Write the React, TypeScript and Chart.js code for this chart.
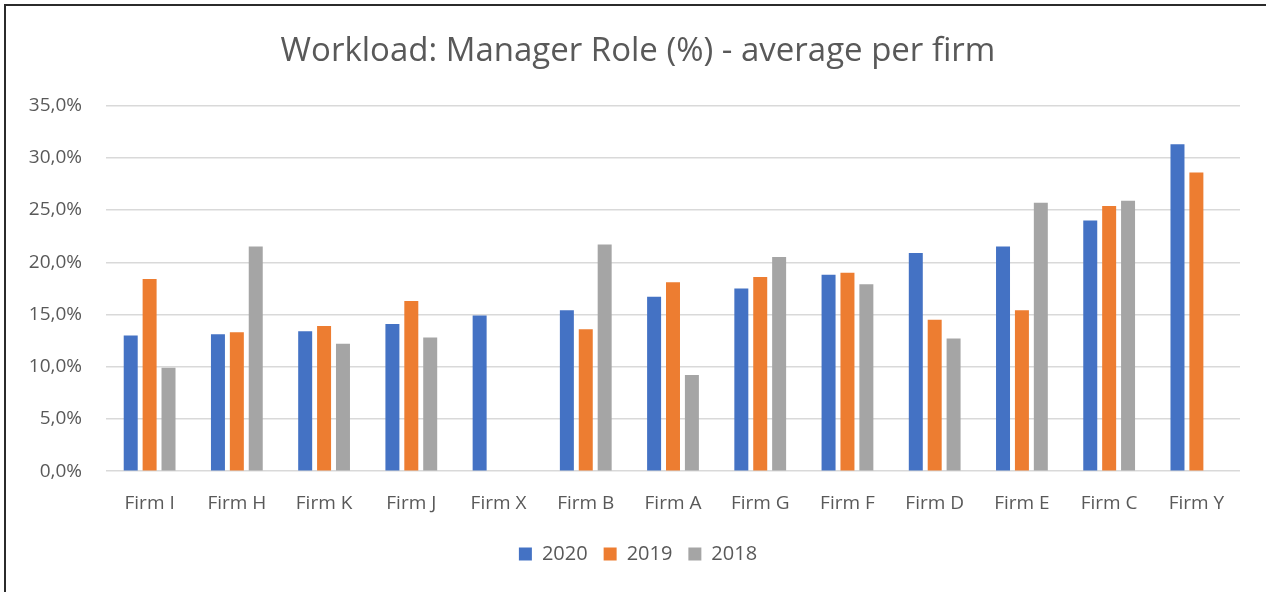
import React, { useEffect, useRef } from "react";
import { Chart, registerables } from "chart.js";

Chart.register(...registerables);

const categories = ["Firm I", "Firm H", "Firm K", "Firm J", "Firm X", "Firm B", "Firm A", "Firm G", "Firm F", "Firm D", "Firm E", "Firm C", "Firm Y"];
const series2020 = [13.0, 13.1, 13.4, 14.1, 14.9, 15.4, 16.7, 17.5, 18.8, 20.9, 21.5, 24.0, 31.3];
const series2019 = [18.4, 13.3, 13.9, 16.3, null, 13.6, 18.1, 18.6, 19.0, 14.5, 15.4, 25.4, 28.6];
const series2018 = [9.9, 21.5, 12.2, 12.8, null, 21.7, 9.2, 20.5, 17.9, 12.7, 25.7, 25.9, null];
const seriesNames = ["2020", "2019", "2018"];
const seriesColors = ["#4472C4", "#ED7D31", "#A5A5A5"];
const titleText = "Workload: Manager Role (%) - average per firm";
const yMin = 0;
const yMax = 35;
const yStep = 5;

const FONT = "'Open Sans', 'Noto Sans', sans-serif";
const TEXT = "#595959";

export default function App() {
  const ref = useRef<HTMLCanvasElement | null>(null);

  useEffect(() => {
    document.body.style.margin = "0";
    const ctx = ref.current;
    if (!ctx) return;
    const data = [series2020, series2019, series2018];
    const chart = new Chart(ctx, {
      type: "bar",
      data: {
        labels: categories,
        datasets: seriesNames.map((name, i) => ({
          label: name,
          data: data[i] as (number | null)[],
          backgroundColor: seriesColors[i],
          borderWidth: 0,
          categoryPercentage: 0.65,
          barPercentage: 0.74,
        })),
      },
      options: {
        animation: false,
        responsive: false,
        maintainAspectRatio: false,
        layout: { padding: { left: 10, right: 0, top: 0, bottom: 18 } },
        plugins: {
          title: {
            display: true,
            text: titleText,
            color: TEXT,
            font: { family: FONT, size: 33, weight: "normal" },
            padding: { top: 32, bottom: 34 },
          },
          legend: {
            position: "bottom",
            labels: {
              color: TEXT,
              font: { family: FONT, size: 20 },
              boxWidth: 13,
              boxHeight: 13,
              padding: 16,
            },
          },
          tooltip: { enabled: false },
        },
        scales: {
          x: {
            grid: { display: false },
            border: { display: false },
            ticks: { color: TEXT, font: { family: FONT, size: 19 }, padding: 13, maxRotation: 0 },
          },
          y: {
            min: yMin,
            max: yMax,
            afterFit: (scale: any) => {
              scale.width = 96;
            },
            grid: { color: "#D9D9D9", lineWidth: 1.5, drawTicks: false },
            border: { display: false },
            ticks: {
              stepSize: yStep,
              color: TEXT,
              font: { family: FONT, size: 19 },
              padding: 24,
              callback: (v: any) => Number(v).toFixed(1).replace(".", ",") + "%",
            },
          },
          yRight: {
            position: "right",
            display: true,
            min: yMin,
            max: yMax,
            afterFit: (scale: any) => {
              scale.width = 26;
            },
            grid: { display: false, drawTicks: false },
            border: { display: false },
            ticks: { display: false },
          },
        },
      },
    });
    return () => chart.destroy();
  }, []);

  return (
    <div style={{ position: "fixed", left: 0, top: 0, width: 1266, height: 592, background: "#fff", overflow: "hidden" }}>
      <canvas ref={ref} width={1266} height={592} style={{ position: "absolute", left: 0, top: 0, width: 1266, height: 592 }} />
      <div style={{ position: "absolute", left: 4, top: 4, width: 1262, height: 2, background: "#2b2b2b" }} />
      <div style={{ position: "absolute", left: 4, top: 4, width: 2, height: 588, background: "#2b2b2b" }} />
    </div>
  );
}
